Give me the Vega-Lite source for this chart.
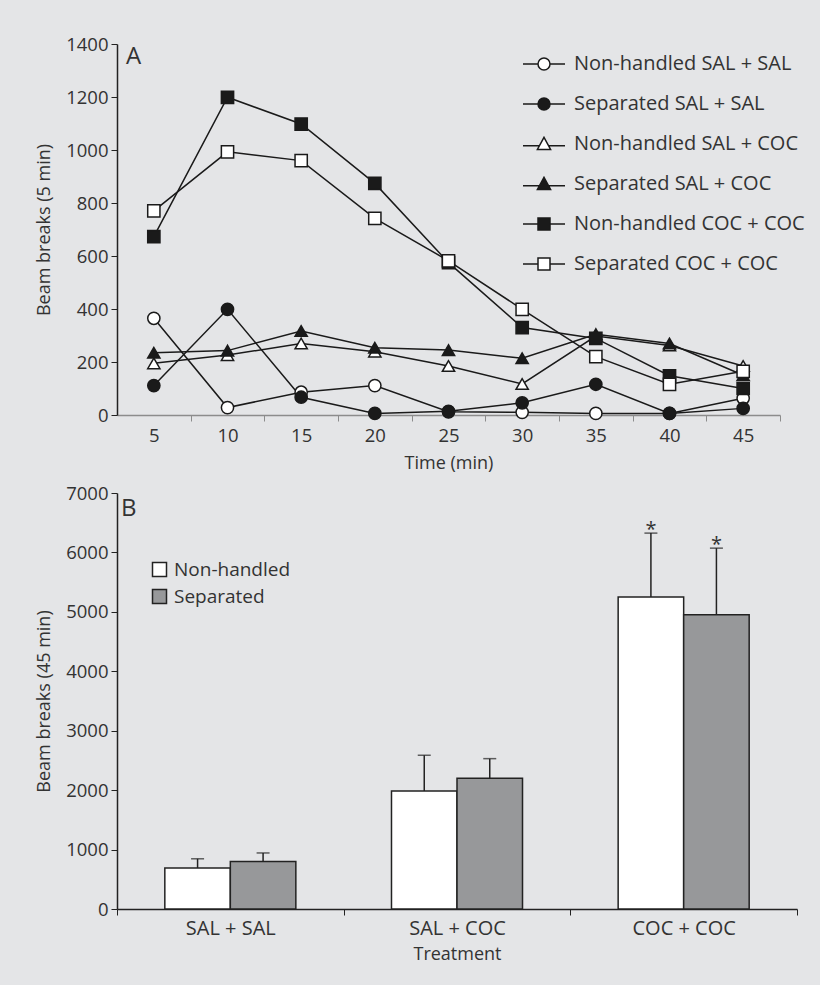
{
  "$schema": "https://vega.github.io/schema/vega-lite/v6.json",
  "background": "#e4e5e7",
  "padding": {"left": 35, "top": 35, "right": 25, "bottom": 22},
  "spacing": 11,
  "resolve": {"scale": {"fill": "independent", "shape": "independent", "stroke": "independent"}, "legend": {"fill": "independent", "shape": "independent", "stroke": "independent"}},
  "config": {
    "view": {"stroke": null},
    "font": "Open Sans",
    "axis": {"labelColor": "#333", "titleColor": "#333", "labelFontSize": 18.5, "titleFontSize": 18, "titleFontWeight": "normal", "grid": false, "domainColor": "#222", "tickColor": "#222", "domainWidth": 1.5, "tickSize": 6, "labelPadding": 3, "labelFont": "Open Sans", "titleFont": "Open Sans"},
    "legend": {"labelColor": "#333", "labelFont": "Open Sans", "labelLimit": 400},
    "title": {"color": "#333", "fontWeight": "normal", "font": "Open Sans"}
  },
  "vconcat": [
    {
      "width": 663,
      "height": 371,
      "title": {"text": "A", "anchor": "start", "frame": "group", "offset": -34, "dx": 9, "fontSize": 24},
      "data": {"values": [
        {"series": "Non-handled SAL + SAL", "time": 5, "value": 365},
        {"series": "Non-handled SAL + SAL", "time": 10, "value": 28},
        {"series": "Non-handled SAL + SAL", "time": 15, "value": 86},
        {"series": "Non-handled SAL + SAL", "time": 20, "value": 111},
        {"series": "Non-handled SAL + SAL", "time": 25, "value": 12},
        {"series": "Non-handled SAL + SAL", "time": 30, "value": 10},
        {"series": "Non-handled SAL + SAL", "time": 35, "value": 6},
        {"series": "Non-handled SAL + SAL", "time": 40, "value": 6},
        {"series": "Non-handled SAL + SAL", "time": 45, "value": 63},
        {"series": "Separated SAL + SAL", "time": 5, "value": 111},
        {"series": "Separated SAL + SAL", "time": 10, "value": 399},
        {"series": "Separated SAL + SAL", "time": 15, "value": 67},
        {"series": "Separated SAL + SAL", "time": 20, "value": 6},
        {"series": "Separated SAL + SAL", "time": 25, "value": 14},
        {"series": "Separated SAL + SAL", "time": 30, "value": 46},
        {"series": "Separated SAL + SAL", "time": 35, "value": 116},
        {"series": "Separated SAL + SAL", "time": 40, "value": 6},
        {"series": "Separated SAL + SAL", "time": 45, "value": 25},
        {"series": "Non-handled SAL + COC", "time": 5, "value": 195},
        {"series": "Non-handled SAL + COC", "time": 10, "value": 226},
        {"series": "Non-handled SAL + COC", "time": 15, "value": 270},
        {"series": "Non-handled SAL + COC", "time": 20, "value": 239},
        {"series": "Non-handled SAL + COC", "time": 25, "value": 185},
        {"series": "Non-handled SAL + COC", "time": 30, "value": 117},
        {"series": "Non-handled SAL + COC", "time": 35, "value": 298},
        {"series": "Non-handled SAL + COC", "time": 40, "value": 262},
        {"series": "Non-handled SAL + COC", "time": 45, "value": 185},
        {"series": "Separated SAL + COC", "time": 5, "value": 235},
        {"series": "Separated SAL + COC", "time": 10, "value": 243},
        {"series": "Separated SAL + COC", "time": 15, "value": 317},
        {"series": "Separated SAL + COC", "time": 20, "value": 254},
        {"series": "Separated SAL + COC", "time": 25, "value": 245},
        {"series": "Separated SAL + COC", "time": 30, "value": 214},
        {"series": "Separated SAL + COC", "time": 35, "value": 305},
        {"series": "Separated SAL + COC", "time": 40, "value": 270},
        {"series": "Separated SAL + COC", "time": 45, "value": 150},
        {"series": "Non-handled COC + COC", "time": 5, "value": 673},
        {"series": "Non-handled COC + COC", "time": 10, "value": 1199},
        {"series": "Non-handled COC + COC", "time": 15, "value": 1098},
        {"series": "Non-handled COC + COC", "time": 20, "value": 874},
        {"series": "Non-handled COC + COC", "time": 25, "value": 575},
        {"series": "Non-handled COC + COC", "time": 30, "value": 330},
        {"series": "Non-handled COC + COC", "time": 35, "value": 289},
        {"series": "Non-handled COC + COC", "time": 40, "value": 148},
        {"series": "Non-handled COC + COC", "time": 45, "value": 100},
        {"series": "Separated COC + COC", "time": 5, "value": 770},
        {"series": "Separated COC + COC", "time": 10, "value": 993},
        {"series": "Separated COC + COC", "time": 15, "value": 960},
        {"series": "Separated COC + COC", "time": 20, "value": 742},
        {"series": "Separated COC + COC", "time": 25, "value": 582},
        {"series": "Separated COC + COC", "time": 30, "value": 399},
        {"series": "Separated COC + COC", "time": 35, "value": 220},
        {"series": "Separated COC + COC", "time": 40, "value": 116},
        {"series": "Separated COC + COC", "time": 45, "value": 165}
      ]},
      "encoding": {
        "x": {"field": "time", "type": "quantitative", "scale": {"domain": [2.5, 47.5], "nice": false, "zero": false},
          "axis": {"title": "Time (min)", "values": [5, 7.5, 10, 12.5, 15, 17.5, 20, 22.5, 25, 27.5, 30, 32.5, 35, 37.5, 40, 42.5, 45, 47.5],
            "labelExpr": "datum.value % 5 == 0 ? datum.label : ''",
            "tickOpacity": {"condition": {"test": "datum.value % 5 == 0", "value": 0}, "value": 1},
            "domainColor": "#8c8c8c", "tickColor": "#8c8c8c", "domainWidth": 1.5, "labelFlush": false, "labelPadding": 5, "titlePadding": 10}},
        "y": {"field": "value", "type": "quantitative", "scale": {"domain": [0, 1400], "nice": false},
          "axis": {"title": "Beam breaks (5 min)", "format": "d", "values": [0, 200, 400, 600, 800, 1000, 1200, 1400], "titlePadding": 12}}
      },
      "resolve": {"scale": {"shape": "independent", "fill": "independent", "stroke": "independent"}, "legend": {"shape": "independent", "fill": "independent", "stroke": "independent"}},
      "layer": [
        {
          "mark": {"type": "line", "color": "#1a1a1a", "strokeWidth": 1.5},
          "encoding": {"detail": {"field": "series", "type": "nominal"}}
        },
        {
          "mark": {"type": "point", "filled": true, "stroke": "#1a1a1a", "strokeWidth": 1.5, "opacity": 1, "size": 150},
          "encoding": {
            "shape": {"field": "series", "type": "nominal", "legend": null,
              "scale": {"domain": ["Non-handled SAL + SAL", "Separated SAL + SAL", "Non-handled SAL + COC", "Separated SAL + COC", "Non-handled COC + COC", "Separated COC + COC"],
                "range": ["circle", "circle", "triangle-up", "triangle-up", "square", "square"]}},
            "fill": {"field": "series", "type": "nominal", "legend": null,
              "scale": {"domain": ["Non-handled SAL + SAL", "Separated SAL + SAL", "Non-handled SAL + COC", "Separated SAL + COC", "Non-handled COC + COC", "Separated COC + COC"],
                "range": ["#ffffff", "#1a1a1a", "#ffffff", "#1a1a1a", "#1a1a1a", "#ffffff"]}}
          }
        },
        {
          "mark": {"type": "point", "filled": true, "opacity": 0, "size": 1, "strokeWidth": 1.5},
          "encoding": {
            "shape": {"field": "series", "type": "nominal",
              "scale": {"domain": ["Non-handled SAL + SAL", "Separated SAL + SAL", "Non-handled SAL + COC", "Separated SAL + COC", "Non-handled COC + COC", "Separated COC + COC"],
                "range": ["M-3.5,0H-1M1,0H3.5M-1,0A1,1 0 1,1 1,0A1,1 0 1,1 -1,0Z", "M-3.5,0H-1M1,0H3.5M-1,0A1,1 0 1,1 1,0A1,1 0 1,1 -1,0Z", "M-3.5,0.3H-0.75M0.75,0.3H3.5M0,-1.1L1.1,0.9H-1.1Z", "M-3.5,0.3H-0.75M0.75,0.3H3.5M0,-1.1L1.1,0.9H-1.1Z", "M-3.5,0H-1M1,0H3.5M-1,-1H1V1H-1Z", "M-3.5,0H-1M1,0H3.5M-1,-1H1V1H-1Z"]},
              "legend": {"title": null, "orient": "none", "legendX": 417, "legendY": 10, "symbolSize": 144, "labelOffset": 20, "labelFontSize": 20, "rowPadding": 20, "symbolStrokeWidth": 1.5, "symbolOpacity": 1}},
            "fill": {"field": "series", "type": "nominal",
              "scale": {"domain": ["Non-handled SAL + SAL", "Separated SAL + SAL", "Non-handled SAL + COC", "Separated SAL + COC", "Non-handled COC + COC", "Separated COC + COC"],
                "range": ["#ffffff", "#1a1a1a", "#ffffff", "#1a1a1a", "#1a1a1a", "#ffffff"]},
              "legend": {"title": null, "orient": "none", "legendX": 417, "legendY": 10, "symbolSize": 144, "labelOffset": 20, "labelFontSize": 20, "rowPadding": 20, "symbolStrokeWidth": 1.5, "symbolOpacity": 1}},
            "stroke": {"field": "series", "type": "nominal",
              "scale": {"domain": ["Non-handled SAL + SAL", "Separated SAL + SAL", "Non-handled SAL + COC", "Separated SAL + COC", "Non-handled COC + COC", "Separated COC + COC"],
                "range": ["#1a1a1a", "#1a1a1a", "#1a1a1a", "#1a1a1a", "#1a1a1a", "#1a1a1a"]},
              "legend": {"title": null, "orient": "none", "legendX": 417, "legendY": 10, "symbolSize": 144, "labelOffset": 20, "labelFontSize": 20, "rowPadding": 20, "symbolStrokeWidth": 1.5, "symbolOpacity": 1}}
          }
        }
      ]
    },
    {
      "width": 680,
      "height": 416,
      "title": {"text": "B", "anchor": "start", "frame": "group", "offset": -37, "dx": 4, "fontSize": 24},
      "data": {"values": [
        {"treatment": "SAL + SAL", "group": "Non-handled", "value": 690, "upper": 845, "sig": ""},
        {"treatment": "SAL + SAL", "group": "Separated", "value": 801, "upper": 943, "sig": ""},
        {"treatment": "SAL + COC", "group": "Non-handled", "value": 1986, "upper": 2587, "sig": ""},
        {"treatment": "SAL + COC", "group": "Separated", "value": 2200, "upper": 2530, "sig": ""},
        {"treatment": "COC + COC", "group": "Non-handled", "value": 5252, "upper": 6325, "sig": "*"},
        {"treatment": "COC + COC", "group": "Separated", "value": 4950, "upper": 6072, "sig": "*"}
      ]},
      "encoding": {
        "x": {"field": "treatment", "type": "nominal", "sort": ["SAL + SAL", "SAL + COC", "COC + COC"],
          "scale": {"paddingInner": 0, "paddingOuter": 0},
          "axis": {"title": "Treatment", "labelAngle": 0, "labelFontSize": 20, "tickBand": "extent", "titlePadding": 7}},
        "xOffset": {"field": "group", "type": "nominal", "sort": ["Non-handled", "Separated"], "scale": {"paddingInner": 0, "paddingOuter": 0.73}}
      },
      "layer": [
        {
          "mark": {"type": "bar", "stroke": "#222", "strokeWidth": 1.5},
          "encoding": {
            "y": {"field": "value", "type": "quantitative", "scale": {"domain": [0, 7000], "nice": false},
              "axis": {"title": "Beam breaks (45 min)", "format": "d", "values": [0, 1000, 2000, 3000, 4000, 5000, 6000, 7000], "titlePadding": 12}},
            "fill": {"field": "group", "type": "nominal", "scale": {"domain": ["Non-handled", "Separated"], "range": ["#ffffff", "#97989a"]},
              "legend": {"title": null, "orient": "none", "legendX": 33, "legendY": 67, "symbolType": "square", "symbolSize": 196, "labelFontSize": 19, "labelOffset": 5, "rowPadding": 6,
                "symbolStrokeColor": "#222", "symbolStrokeWidth": 1.5}}
          }
        },
        {
          "mark": {"type": "rule", "color": "#222", "strokeWidth": 1.5},
          "encoding": {"y": {"field": "value", "type": "quantitative"}, "y2": {"field": "upper"}}
        },
        {
          "mark": {"type": "tick", "color": "#222", "size": 13, "thickness": 1.5},
          "encoding": {"y": {"field": "upper", "type": "quantitative"}}
        },
        {
          "mark": {"type": "text", "fontSize": 20, "color": "#333", "dy": -3, "baseline": "middle"},
          "encoding": {"y": {"field": "upper", "type": "quantitative"}, "text": {"field": "sig"}}
        }
      ]
    }
  ]
}
